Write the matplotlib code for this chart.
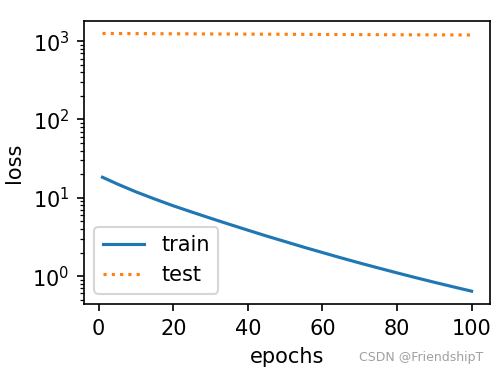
import matplotlib
matplotlib.use("Agg")
import matplotlib.pyplot as plt

epochs = [1, 5, 10, 15, 20, 25, 30, 35, 40, 45, 50,
          55, 60, 65, 70, 75, 80, 85, 90, 95, 100]
train_loss = [18.3, 15.0, 11.9, 9.65, 7.9, 6.57, 5.48, 4.59, 3.86, 3.25, 2.76,
              2.34, 2.00, 1.71, 1.47, 1.27, 1.10, 0.956, 0.834, 0.731, 0.642]
test_loss = [1255, 1252, 1249, 1246, 1243, 1240, 1237, 1234, 1231, 1228, 1225,
             1222, 1219, 1216, 1213, 1210, 1208, 1206, 1204, 1202, 1200]

dpi = 150
fig = plt.figure(figsize=(498 / dpi, 374 / dpi), dpi=dpi)
ax = fig.add_axes([0.1687, 0.187, 0.8153, 0.758])

ax.plot(epochs, train_loss, '-', color='#1f77b4', lw=1.5, label='train')
ax.plot(epochs, test_loss, ':', color='#ff7f0e', lw=1.5, label='test')
ax.set_yscale('log')
ax.set_xlabel('epochs')
ax.set_ylabel('loss')
ax.set_xticks([0, 20, 40, 60, 80, 100])
ax.legend(loc='lower left')

fig.text(0.97, 0.045, 'CSDN @FriendshipT', color='#a0a0a0', fontsize=6,
         ha='right', va='center')

fig.savefig('out.png', dpi=dpi)
